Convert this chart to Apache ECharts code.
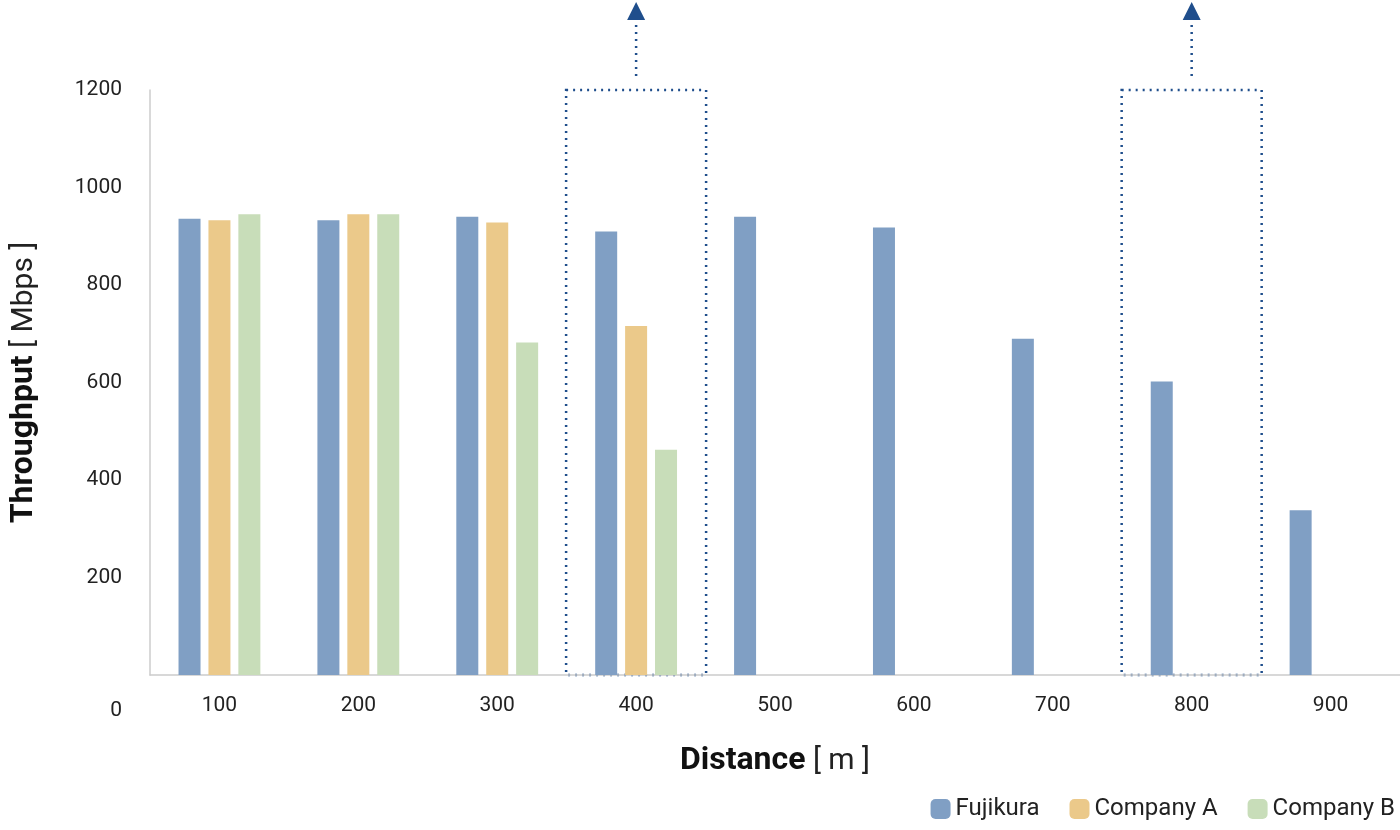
<!DOCTYPE html>
<html>
  <head>
    <meta charset="UTF-8" />
    <title>Throughput vs distance</title>
    <script src="https://cdn.jsdelivr.net/npm/echarts@6/dist/echarts.min.js"></script>
    <style>
      html, body { margin: 0; padding: 0; background: #fff; }
      #main { width: 1400px; height: 830px; }
    </style>
  </head>
  <body>
    <div id="main"></div>
    <script>
      const distances = ['100', '200', '300', '400', '500', '600', '700', '800', '900']
      const fujikura = [936, 933, 940, 910, 940, 918, 690, 602, 338]
      const companyA = [933, 945, 928, 716, null, null, null, null, null]
      const companyB = [945, 945, 682, 462, null, null, null, null, null]
      const highlighted = ['400', '800']

      const font = 'Roboto, "Noto Sans", sans-serif'

      let bar = function (name, data, color) {
        return {
          name: name,
          type: 'bar',
          data: data,
          barWidth: 22,
          barGap: '36%',
          itemStyle: { color: color },
        }
      }

      const chart = echarts.init(document.getElementById('main'))
      chart.setOption({
        animation: false,
        textStyle: { fontFamily: font },
        grid: { left: 140, right: 0, top: 90, bottom: 155 },
        legend: {
          right: 0,
          bottom: 4,
          itemWidth: 20,
          itemHeight: 20,
          itemGap: 30,
          textStyle: { fontSize: 24, color: '#222', fontFamily: font },
          data: ['Fujikura', 'Company A', 'Company B'],
        },
        xAxis: {
          type: 'category',
          data: distances,
          axisLine: { lineStyle: { color: '#ccc', width: 1.5 } },
          axisTick: { show: false },
          axisLabel: { fontSize: 21, color: '#222', margin: 20 },
          name: '{b|Distance}{n| [ m ]}',
          nameLocation: 'middle',
          nameGap: 70,
          nameTextStyle: {
            rich: {
              b: { fontSize: 32, fontWeight: 'bold', color: '#111', fontFamily: font },
              n: { fontSize: 30, color: '#222', fontFamily: font },
            },
          },
        },
        yAxis: {
          type: 'value',
          min: 0,
          max: 1200,
          interval: 200,
          axisLine: { show: true, lineStyle: { color: '#ccc', width: 1.5 } },
          axisTick: { show: false },
          splitLine: { show: false },
          axisLabel: {
            fontSize: 21,
            color: '#222',
            margin: 28,
            formatter: function (v) {
              return v === 0 ? '{z|0}' : String(v)
            },
            rich: { z: { fontSize: 21, color: '#222', padding: [72, 0, 0, 0], fontFamily: font } },
          },
          name: '{b|Throughput}{n| [ Mbps ]}',
          nameLocation: 'middle',
          nameGap: 110,
          nameRotate: 90,
          nameTextStyle: {
            rich: {
              b: { fontSize: 32, fontWeight: 'bold', color: '#111', fontFamily: font },
              n: { fontSize: 30, color: '#222', fontFamily: font },
            },
          },
        },
        series: [
          bar('Fujikura', fujikura, '#809fc4'),
          bar('Company A', companyA, '#ebc98a'),
          bar('Company B', companyB, '#c8ddb9'),
        ],
      })

      // dotted boxes with arrows over the highlighted distances
      const yTop = chart.convertToPixel({ yAxisIndex: 0 }, 1200)
      const yBottom = chart.convertToPixel({ yAxisIndex: 0 }, 0)
      const half = 70
      const dotted = { stroke: '#1f4e8c', lineWidth: 2.5, lineDash: [2, 5], fill: null }
      let elements = []
      highlighted.forEach(function (d) {
        const cx = chart.convertToPixel({ xAxisIndex: 0 }, d)
        elements.push({
          type: 'rect',
          shape: { x: cx - half, y: yTop, width: half * 2, height: yBottom - yTop },
          style: dotted,
        })
        elements.push({
          type: 'line',
          shape: { x1: cx, y1: yTop - 14, x2: cx, y2: 20 },
          style: dotted,
        })
        elements.push({
          type: 'polygon',
          shape: { points: [[cx, 2], [cx - 9, 20], [cx + 9, 20]] },
          style: { fill: '#1f4e8c' },
        })
      })
      chart.setOption({ graphic: { elements: elements } })
    </script>
  </body>
</html>
